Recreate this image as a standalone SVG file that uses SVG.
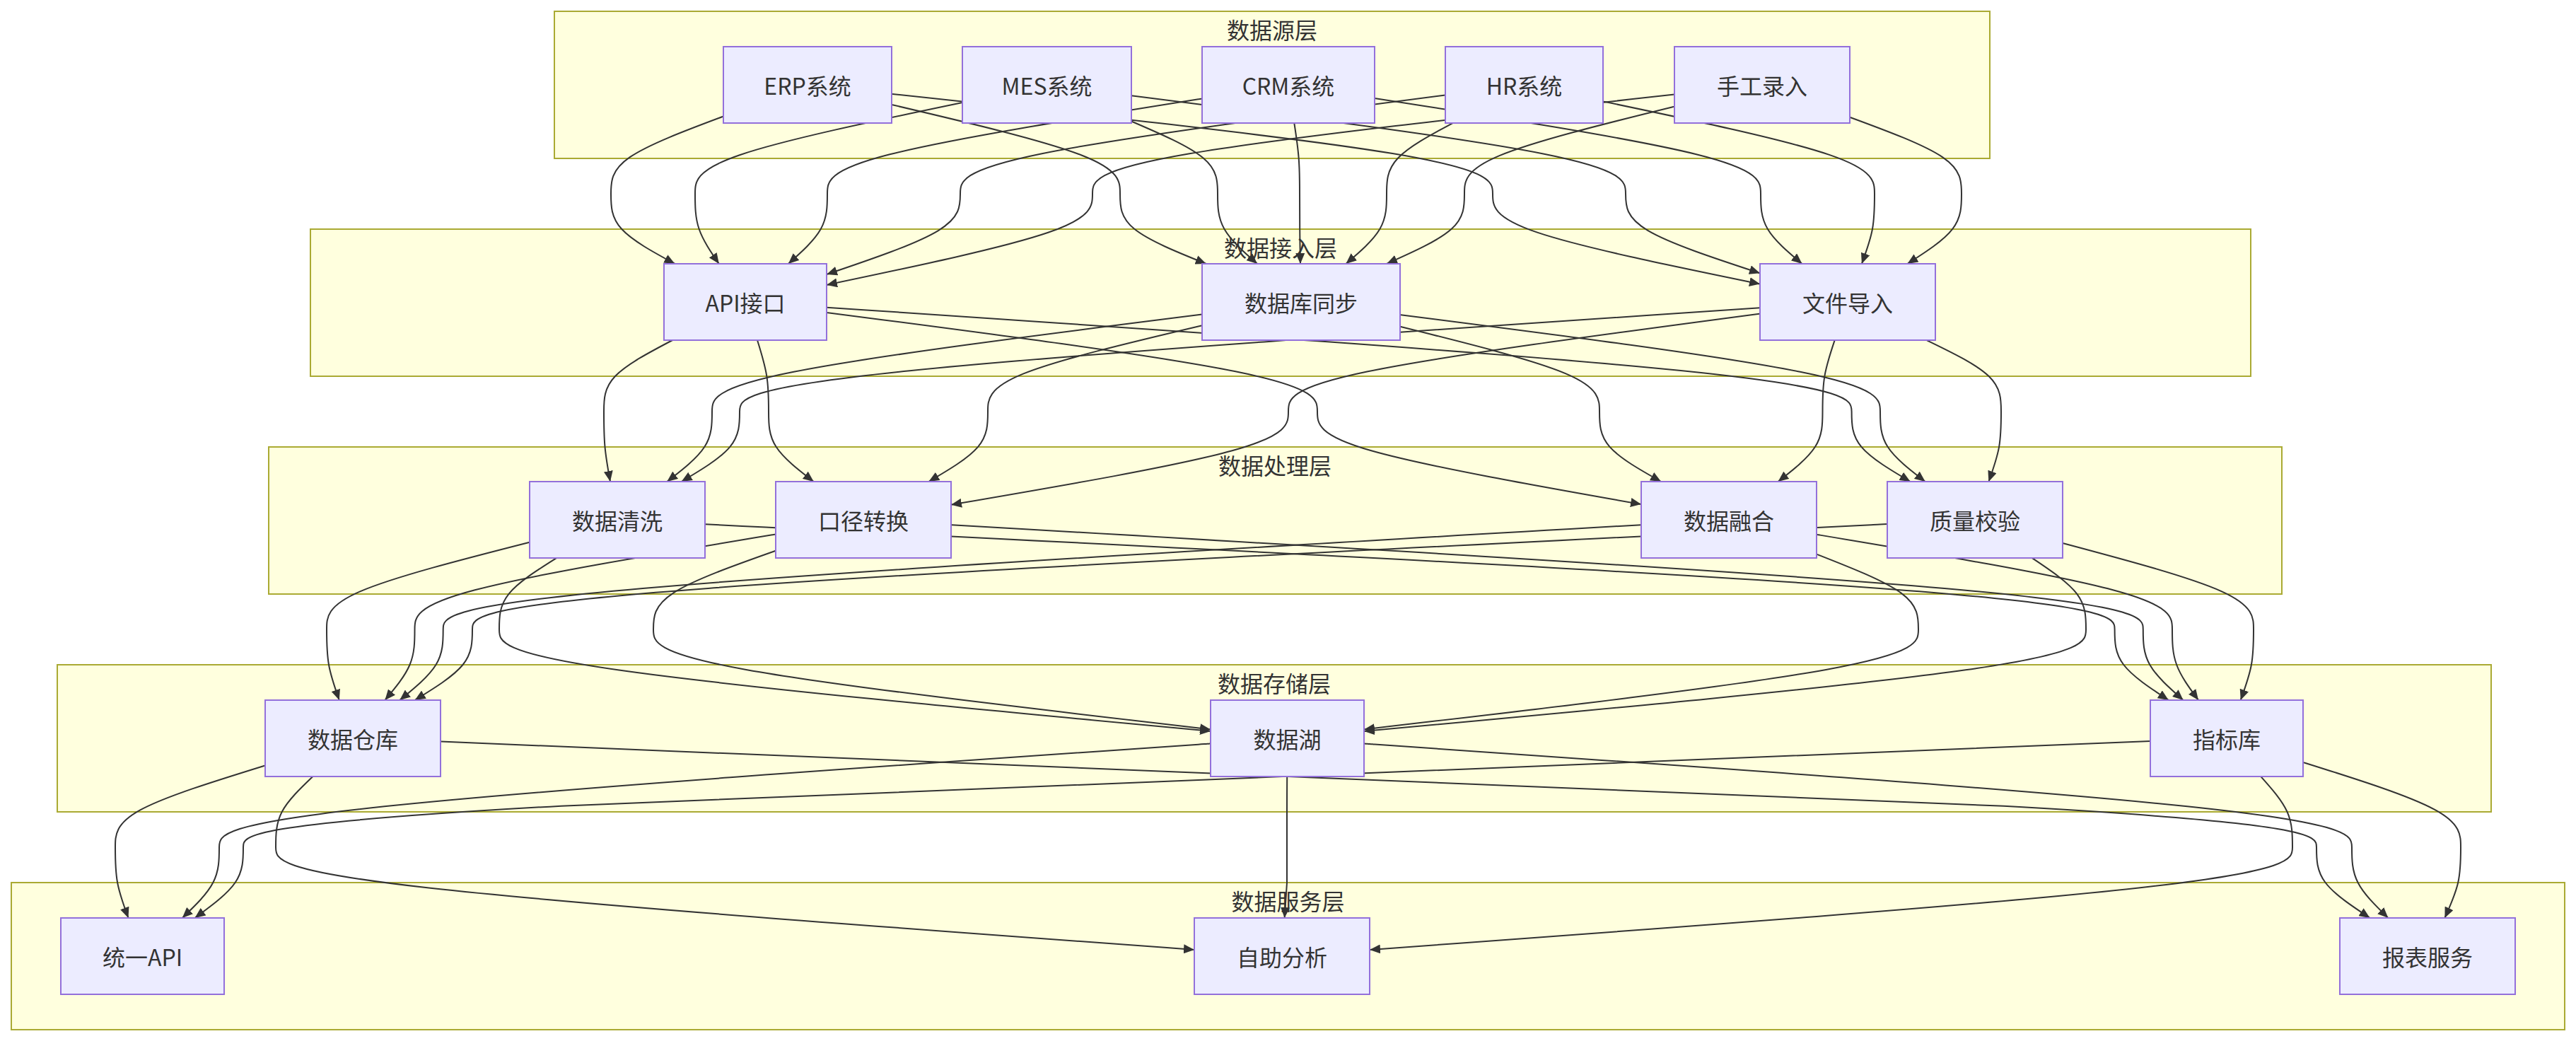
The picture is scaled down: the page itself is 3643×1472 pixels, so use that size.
<svg xmlns="http://www.w3.org/2000/svg" width="3643" height="1472" viewBox="0 0 3643 1472">
<style>
.cluster rect{fill:#ffffde;stroke:#aaaa33;stroke-width:2}
.node rect{fill:#ececff;stroke:#9370db;stroke-width:2}
text{font-family:"Noto Sans CJK SC","Noto Sans",sans-serif;font-size:32px;fill:#333;text-anchor:middle;dominant-baseline:central}
#edges path{fill:none;stroke:#333;stroke-width:2;marker-end:url(#arrow)}
</style>
<defs>
<marker id="arrow" viewBox="0 0 10 10" refX="10" refY="5" markerUnits="userSpaceOnUse" markerWidth="15" markerHeight="13" orient="auto" preserveAspectRatio="none"><path d="M0,0 L10,5 L0,10 z" fill="#333"/></marker>
</defs>
<rect x="0" y="0" width="3643" height="1472" fill="#ffffff"/>
<g id="clusters">
<g id="layer-source" class="cluster"><rect x="784" y="16" width="2030" height="208"/><text x="1799" y="41">数据源层</text></g>
<g id="layer-access" class="cluster"><rect x="439" y="324" width="2744" height="208"/><text x="1811" y="349">数据接入层</text></g>
<g id="layer-process" class="cluster"><rect x="380" y="632" width="2847" height="208"/><text x="1803" y="657">数据处理层</text></g>
<g id="layer-storage" class="cluster"><rect x="81" y="940" width="3442" height="208"/><text x="1802" y="965">数据存储层</text></g>
<g id="layer-service" class="cluster"><rect x="16" y="1248" width="3611" height="208"/><text x="1821.5" y="1273">数据服务层</text></g>
</g>
<g id="edges">
<path d="M1023,164.5 C970,184.3 917,204.2 890.5,222.4 C864,240.7 864,257.3 864,274 C864,290.7 864,307.3 879.1,323.8 C894.1,340.3 924.3,356.7 954.4,373"/>
<path d="M1361,145 C1235,171.3 1109,197.7 1046,219.2 C983,240.7 983,257.3 983,274 C983,290.7 983,307.3 988.6,323.8 C994.3,340.3 1005.5,356.7 1016.8,373"/>
<path d="M1700,139.5 C1523.3,167.7 1346.7,195.8 1258.3,218.3 C1170,240.7 1170,257.3 1170,274 C1170,290.7 1170,307.3 1160.8,323.8 C1151.6,340.3 1133.2,356.7 1114.8,373"/>
<path d="M2044,134.5 C1815.3,164.3 1586.7,194.2 1472.3,217.4 C1358,240.7 1358,257.3 1358,274 C1358,290.7 1358,307.3 1326.5,326.3 C1295,345.3 1232,366.7 1169,388"/>
<path d="M2368,133.6 C2093.7,163.7 1819.3,193.9 1682.2,217.3 C1545,240.7 1545,257.3 1545,274 C1545,290.7 1545,307.3 1482.3,328.8 C1419.7,350.3 1294.3,376.6 1169,402.9"/>
<path d="M1261,148 C1368.7,173.3 1476.3,198.7 1530.2,219.7 C1584,240.7 1584,257.3 1584,274 C1584,290.7 1584,307.3 1604.3,323.8 C1624.6,340.3 1665.2,356.7 1705.8,373"/>
<path d="M1600,171.5 C1640.7,189 1681.3,206.5 1701.7,223.6 C1722,240.7 1722,257.3 1722,274 C1722,290.7 1722,307.3 1731.4,323.8 C1740.7,340.3 1759.4,356.7 1778.1,373"/>
<path d="M1830.3,174 C1832.9,190.7 1835.4,207.3 1836.7,224 C1838,240.7 1838,257.3 1838,274 C1838,290.7 1838,307.3 1838.2,323.8 C1838.3,340.3 1838.7,356.7 1839,373"/>
<path d="M2054.5,174 C2023.3,190.7 1992.2,207.3 1976.6,224 C1961,240.7 1961,257.3 1961,274 C1961,290.7 1961,307.3 1951.4,323.8 C1941.8,340.3 1922.6,356.7 1903.4,373"/>
<path d="M2368,150.6 C2269,175.1 2170,199.5 2120.5,220.1 C2071,240.7 2071,257.3 2071,274 C2071,290.7 2071,307.3 2052.7,323.8 C2034.4,340.3 1997.7,356.7 1961.1,373"/>
<path d="M1261,132.8 C1544.3,163.2 1827.7,193.6 1969.3,217.1 C2111,240.7 2111,257.3 2111,274 C2111,290.7 2111,307.3 2174,328.6 C2237,349.9 2363,375.7 2489,401.6"/>
<path d="M1600,135.2 C1833,164.8 2066,194.4 2182.5,217.5 C2299,240.7 2299,257.3 2299,274 C2299,290.7 2299,307.3 2330.7,326.1 C2362.3,344.8 2425.7,365.5 2489,386.3"/>
<path d="M1944,139 C2126,167.3 2308,195.7 2399,218.2 C2490,240.7 2490,257.3 2490,274 C2490,290.7 2490,307.3 2499.8,323.8 C2509.5,340.3 2529,356.7 2548.5,373"/>
<path d="M2267,143.4 C2395,170.3 2523,197.1 2587,218.9 C2651,240.7 2651,257.3 2651,274 C2651,290.7 2651,307.3 2648,323.8 C2645,340.3 2638.9,356.7 2632.9,373"/>
<path d="M2616,165.7 C2668.7,185.1 2721.3,204.6 2747.7,222.6 C2774,240.7 2774,257.3 2774,274 C2774,290.7 2774,307.3 2761.2,323.8 C2748.5,340.3 2722.9,356.7 2697.4,373"/>
<path d="M951.1,481 C918.7,498 886.4,515 870.2,531.8 C854,548.7 854,565.3 854,582 C854,598.7 854,615.3 855.5,631.8 C857,648.3 860,664.7 863,681"/>
<path d="M1700,444.6 C1469,473.7 1238,502.9 1122.5,525.8 C1007,548.7 1007,565.3 1007,582 C1007,598.7 1007,615.3 996.4,631.8 C985.8,648.3 964.5,664.7 943.3,681"/>
<path d="M2489,435.3 C2008,467.5 1527,499.8 1286.5,524.2 C1046,548.7 1046,565.3 1046,582 C1046,598.7 1046,615.3 1032.3,631.8 C1018.6,648.3 991.1,664.7 963.7,681"/>
<path d="M1071,481 C1076.3,498 1081.7,515 1084.3,531.8 C1087,548.7 1087,565.3 1087,582 C1087,598.7 1087,615.3 1097.6,631.8 C1108.2,648.3 1129.5,664.7 1150.7,681"/>
<path d="M1700,460.2 C1599,484.1 1498,508.1 1447.5,528.4 C1397,548.7 1397,565.3 1397,582 C1397,598.7 1397,615.3 1383.1,631.8 C1369.1,648.3 1341.2,664.7 1313.3,681"/>
<path d="M2489,443.5 C2266.7,473 2044.3,502.5 1933.2,525.6 C1822,548.7 1822,565.3 1822,582 C1822,598.7 1822,615.3 1742.5,637.3 C1663,659.3 1504,686.5 1345,713.8"/>
<path d="M1169,441.9 C1400.3,471.9 1631.7,502 1747.3,525.3 C1863,548.7 1863,565.3 1863,582 C1863,598.7 1863,615.3 1939.3,637.2 C2015.7,659 2168.3,686.1 2321,713.1"/>
<path d="M1980,461.8 C2074,485.2 2168,508.6 2215,528.6 C2262,548.7 2262,565.3 2262,582 C2262,598.7 2262,615.3 2276.5,631.8 C2291,648.3 2320.1,664.7 2349.1,681"/>
<path d="M2594.7,481 C2589,498 2583.2,515 2580.4,531.8 C2577.5,548.7 2577.5,565.3 2577.5,582 C2577.5,598.7 2577.5,615.3 2567,631.8 C2556.5,648.3 2535.5,664.7 2514.5,681"/>
<path d="M1169,434.7 C1652.2,467.1 2135.4,499.6 2377,524.1 C2618.6,548.7 2618.6,565.3 2618.6,582 C2618.6,598.7 2618.6,615.3 2632.4,631.8 C2646.3,648.3 2673.9,664.7 2701.6,681"/>
<path d="M1980,445 C2206.3,474 2432.7,503 2545.8,525.8 C2659,548.7 2659,565.3 2659,582 C2659,598.7 2659,615.3 2669.6,631.8 C2680.2,648.3 2701.5,664.7 2722.7,681"/>
<path d="M2724.6,481 C2759.7,498 2794.9,515 2812.4,531.8 C2830,548.7 2830,565.3 2830,582 C2830,598.7 2830,615.3 2827.1,631.8 C2824.1,648.3 2818.3,664.7 2812.4,681"/>
<path d="M749,766.7 C653.3,791.1 557.7,815.6 509.8,836.1 C462,856.7 462,873.3 462,890 C462,906.7 462,923.3 465,940 C467.9,956.7 473.9,973.3 479.8,990"/>
<path d="M1097,755.5 C926.8,783.7 756.7,811.8 671.6,834.3 C586.5,856.7 586.5,873.3 586.5,890 C586.5,906.7 586.5,923.3 579.5,940 C572.5,956.7 558.4,973.3 544.4,990"/>
<path d="M2321,742.2 C1756.2,774.8 1191.5,807.4 909.1,832 C626.7,856.7 626.7,873.3 626.7,890 C626.7,906.7 626.7,923.3 616.5,940 C606.2,956.7 585.8,973.3 565.3,990"/>
<path d="M2669,741.1 C2002,774.1 1335,807 1001.5,831.9 C668,856.7 668,873.3 668,890 C668,906.7 668,923.3 654.5,940 C640.9,956.7 613.8,973.3 586.7,990"/>
<path d="M787.1,789 C760.1,806 733,823 719.5,839.8 C706,856.7 706,873.3 706,890 C706,906.7 706,923.3 873.7,947.3 C1041.3,971.3 1376.7,1002.6 1712,1033.9"/>
<path d="M1097,778.8 C1039.3,799.2 981.7,819.6 952.8,838.1 C924,856.7 924,873.3 924,890 C924,906.7 924,923.3 1055.3,946.9 C1186.7,970.5 1449.3,1000.9 1712,1031.4"/>
<path d="M2569,783.6 C2617,802.4 2665,821.2 2689,838.9 C2713,856.7 2713,873.3 2713,890 C2713,906.7 2713,923.3 2582.3,946.9 C2451.7,970.5 2190.3,1000.9 1929,1031.4"/>
<path d="M2873.7,789 C2899.1,806 2924.6,823 2937.3,839.8 C2950,856.7 2950,873.3 2950,890 C2950,906.7 2950,923.3 2779.8,947.3 C2609.7,971.3 2269.3,1002.7 1929,1034"/>
<path d="M997,741.2 C1661.5,774.1 2326.1,807.1 2658.3,831.9 C2990.6,856.7 2990.6,873.3 2990.6,890 C2990.6,906.7 2990.6,923.3 3003.3,940 C3016,956.7 3041.4,973.3 3066.8,990"/>
<path d="M1345,742.2 C1906.9,774.8 2468.9,807.4 2749.8,832 C3030.8,856.7 3030.8,873.3 3030.8,890 C3030.8,906.7 3030.8,923.3 3040.3,940 C3049.7,956.7 3068.7,973.3 3087.6,990"/>
<path d="M2569,755.8 C2736.7,783.9 2904.3,811.9 2988.2,834.3 C3072,856.7 3072,873.3 3072,890 C3072,906.7 3072,923.3 3078.2,940 C3084.3,956.7 3096.7,973.3 3109,990"/>
<path d="M2917,768 C3007,792 3097,816 3142,836.3 C3187,856.7 3187,873.3 3187,890 C3187,906.7 3187,923.3 3183.9,940 C3180.9,956.7 3174.8,973.3 3168.7,990"/>
<path d="M375,1082.4 C304.3,1104.3 233.7,1126.1 198.3,1145.4 C163,1164.7 163,1181.3 163,1198 C163,1214.7 163,1231.3 166.1,1248 C169.2,1264.7 175.3,1281.3 181.5,1298"/>
<path d="M1712,1051.5 C1244.7,1083.7 777.3,1115.8 543.7,1140.3 C310,1164.7 310,1181.3 310,1198 C310,1214.7 310,1231.3 301.3,1248 C292.6,1264.7 275.2,1281.3 257.8,1298"/>
<path d="M3041,1048 C2142,1081.3 1243,1114.7 793.5,1139.7 C344,1164.7 344,1181.3 344,1198 C344,1214.7 344,1231.3 332.6,1248 C321.2,1264.7 298.3,1281.3 275.5,1298"/>
<path d="M442.4,1098 C424.9,1114.7 407.5,1131.3 398.7,1148 C390,1164.7 390,1181.3 390,1198 C390,1214.7 390,1231.3 606.5,1255.5 C823,1279.6 1256,1311.3 1689,1342.9"/>
<path d="M1820.2,1098 C1820.1,1114.7 1820,1131.3 1820,1148 L1820,1248 C1819,1265 1817.7,1281 1816.6,1298"/>
<path d="M3197.3,1098 C3212.2,1114.7 3227.1,1131.3 3234.6,1148 C3242,1164.7 3242,1181.3 3242,1198 C3242,1214.7 3242,1231.3 3024.5,1255.5 C2807,1279.7 2372,1311.3 1937,1343"/>
<path d="M623,1048.6 C1507.3,1081.7 2391.7,1114.9 2833.8,1139.8 C3276,1164.7 3276,1181.3 3276,1198 C3276,1214.7 3276,1231.3 3288.6,1248 C3301.2,1264.7 3326.3,1281.3 3351.5,1298"/>
<path d="M1929,1051.5 C2394.7,1083.7 2860.3,1115.8 3093.2,1140.3 C3326,1164.7 3326,1181.3 3326,1198 C3326,1214.7 3326,1231.3 3334.6,1248 C3343.1,1264.7 3360.3,1281.3 3377.4,1298"/>
<path d="M3257,1077.9 C3331.3,1101.3 3405.7,1124.6 3442.8,1144.7 C3480,1164.7 3480,1181.3 3480,1198 C3480,1214.7 3480,1231.3 3476.2,1248 C3472.5,1264.7 3464.9,1281.3 3457.4,1298"/>
</g>
<g id="nodes">
<g id="n-erp" class="node"><rect x="1023" y="66" width="238" height="108"/><text x="1142" y="120">ERP系统</text></g>
<g id="n-mes" class="node"><rect x="1361" y="66" width="239" height="108"/><text x="1480.5" y="120">MES系统</text></g>
<g id="n-crm" class="node"><rect x="1700" y="66" width="244" height="108"/><text x="1822" y="120">CRM系统</text></g>
<g id="n-hr" class="node"><rect x="2044" y="66" width="223" height="108"/><text x="2155.5" y="120">HR系统</text></g>
<g id="n-manual" class="node"><rect x="2368" y="66" width="248" height="108"/><text x="2492" y="120">手工录入</text></g>
<g id="n-api" class="node"><rect x="939" y="373" width="230" height="108"/><text x="1054" y="427">API接口</text></g>
<g id="n-dbsync" class="node"><rect x="1700" y="373" width="280" height="108"/><text x="1840" y="427">数据库同步</text></g>
<g id="n-file" class="node"><rect x="2489" y="373" width="248" height="108"/><text x="2613" y="427">文件导入</text></g>
<g id="n-clean" class="node"><rect x="749" y="681" width="248" height="108"/><text x="873" y="735">数据清洗</text></g>
<g id="n-caliber" class="node"><rect x="1097" y="681" width="248" height="108"/><text x="1221" y="735">口径转换</text></g>
<g id="n-fusion" class="node"><rect x="2321" y="681" width="248" height="108"/><text x="2445" y="735">数据融合</text></g>
<g id="n-quality" class="node"><rect x="2669" y="681" width="248" height="108"/><text x="2793" y="735">质量校验</text></g>
<g id="n-dw" class="node"><rect x="375" y="990" width="248" height="108"/><text x="499" y="1044">数据仓库</text></g>
<g id="n-lake" class="node"><rect x="1712" y="990" width="217" height="108"/><text x="1820.5" y="1044">数据湖</text></g>
<g id="n-metric" class="node"><rect x="3041" y="990" width="216" height="108"/><text x="3149" y="1044">指标库</text></g>
<g id="n-uapi" class="node"><rect x="86" y="1298" width="231" height="108"/><text x="201.5" y="1352">统一API</text></g>
<g id="n-self" class="node"><rect x="1689" y="1298" width="248" height="108"/><text x="1813" y="1352">自助分析</text></g>
<g id="n-report" class="node"><rect x="3309" y="1298" width="248" height="108"/><text x="3433" y="1352">报表服务</text></g>
</g>
</svg>
